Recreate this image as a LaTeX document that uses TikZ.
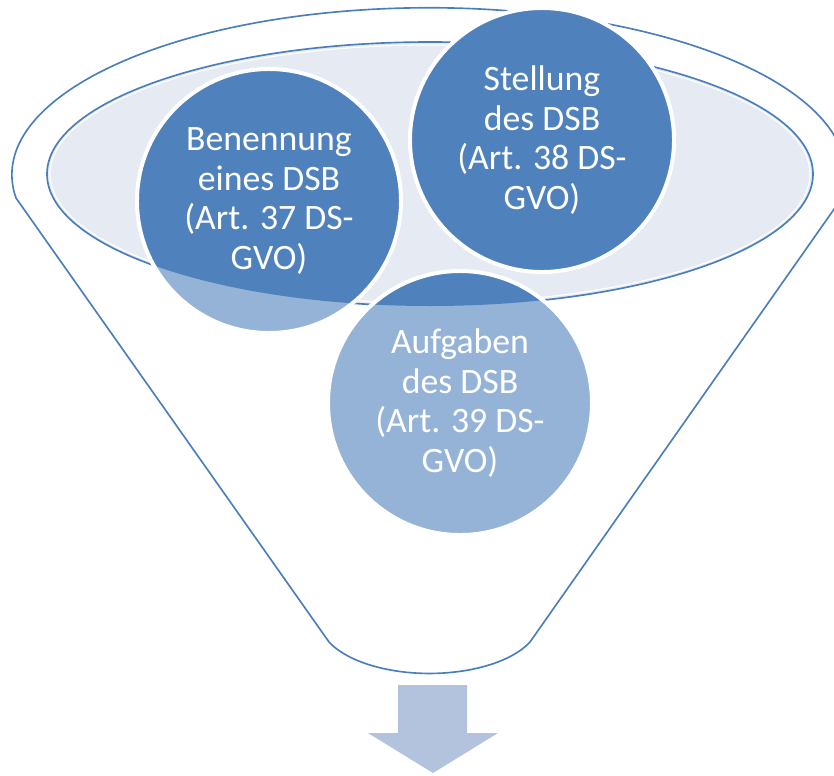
\documentclass[tikz,border=0pt]{standalone}
\usepackage{fontspec}
\setmainfont{Carlito}
\definecolor{dunkel}{HTML}{4F81BD}
\definecolor{hell}{HTML}{95B3D7}
\definecolor{rand}{HTML}{4A7EBB}
\definecolor{schale}{HTML}{E5EAF3}
\definecolor{pfeilfarbe}{HTML}{B3C3DE}
\tikzset{
  kreis/.style={circle,draw=white,line width=3.4pt,minimum size=7.92cm,
    align=center,text=white,font=\fontsize{30.5}{34}\selectfont},
  trichter/.style={draw=rand,line width=1.4pt,line join=round}
}
\newcommand\scheibe[1]{%
  \fill[hell] (#1) circle[radius=132];
  \begin{scope}
    \clip (430,174) ellipse[x radius=383, y radius=132];
    \fill[dunkel] (#1) circle[radius=132];
  \end{scope}
  \begin{scope}
    \clip (0,0) rectangle (834,174);
    \fill[dunkel] (#1) circle[radius=132];
  \end{scope}}
\begin{document}
\begin{tikzpicture}[x=0.03cm,y=-0.03cm]
\useasboundingbox (0,0) rectangle (834,775);
\draw[trichter] (16,198) arc[start angle=172, end angle=368, x radius=417, y radius=167]
  -- (530,642) arc[start angle=24, end angle=156, x radius=110, y radius=53] -- cycle;
\filldraw[trichter,fill=schale] (430,174) ellipse[x radius=383, y radius=132];
\draw[white,line width=1pt] (430,174) ellipse[x radius=380, y radius=129];
\scheibe{269,201}
\node[kreis] (benennung) at (269,201) {Benennung\\eines DSB\\(Art. 37 DS-\\GVO)};
\scheibe{542,140}
\node[kreis] (stellung) at (542,140) {Stellung\\des DSB\\(Art. 38 DS-\\GVO)};
\scheibe{460,403}
\node[kreis] (aufgaben) at (460,403) {Aufgaben\\des DSB\\(Art. 39 DS-\\GVO)};
\fill[pfeilfarbe] (398,685) -- (467,685) -- (467,733) -- (498,733) -- (433,773)
  -- (368,733) -- (398,733) -- cycle;
\end{tikzpicture}
\end{document}
